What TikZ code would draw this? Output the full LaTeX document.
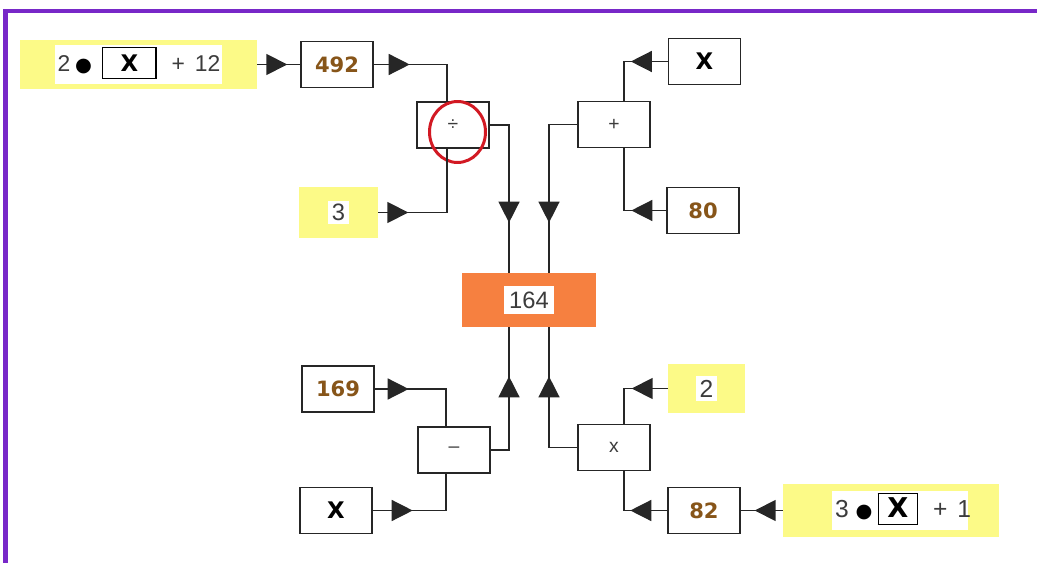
\documentclass[tikz,border=0pt]{standalone}
\usepackage{fontspec}
\setmainfont{Liberation Sans}
\newfontfamily\dejavu{DejaVu Sans}
\usetikzlibrary{arrows.meta, decorations.markings, shapes.geometric, positioning}

\definecolor{framepurple}{RGB}{120,40,200}
\definecolor{hiyellow}{RGB}{252,250,135}
\definecolor{resorange}{RGB}{246,128,64}
\definecolor{numbrown}{RGB}{135,85,25}
\definecolor{txtgray}{RGB}{60,60,60}
\definecolor{ringred}{RGB}{210,25,35}

\newcommand{\unknownbox}[2]{{\setlength{\fboxsep}{0pt}\setlength{\fboxrule}{0.7pt}%
  \fcolorbox{black}{white}{\makebox[#1]{\rule[-0.13cm]{0pt}{0.59cm}\fontsize{#2}{#2}\selectfont\dejavu\bfseries\color{black}X}}}}
\newcommand{\patch}[2][2pt]{{\setlength{\fboxsep}{#1}\colorbox{white}{#2}}}
\newcommand{\dotsign}[1]{{\fontsize{#1}{#1}\selectfont\dejavu\color{black}●}}

\begin{document}
\begin{tikzpicture}[
  x=0.02cm, y=-0.02cm,
  tri/.tip={Triangle[length=0.42cm, width=0.42cm]},
  box/.style={rectangle, draw=black!85, line width=0.8pt, fill=white, minimum width=1.44cm, minimum height=0.92cm, inner sep=0pt},
  opbox/.style={box, font=\fontsize{11}{13}\selectfont, text=txtgray},
  numbox/.style={box, font=\fontsize{12}{14}\selectfont\dejavu\bfseries, text=numbrown},
  varbox/.style={box, font=\fontsize{13}{15}\selectfont\dejavu\bfseries, text=black},
  given/.style={rectangle, fill=hiyellow, inner sep=0pt, font=\fontsize{13.5}{15}\selectfont, text=txtgray},
  result/.style={rectangle, fill=resorange, minimum width=2.68cm, minimum height=1.08cm, inner sep=0pt, font=\fontsize{13.5}{15}\selectfont, text=txtgray},
  ring/.style={ellipse, draw=ringred, line width=1.7pt, minimum width=1.12cm, minimum height=1.22cm},
  link/.style={draw=black!85, line width=0.8pt},
  tipat/.style={link, postaction={decorate}, decoration={markings, mark=at position #1 with {\arrow{tri}}}}
]
\useasboundingbox (0,0) rectangle (1037,563);
\draw[framepurple, line width=2.3pt] (5.5,563) -- (5.5,11) -- (1037,11);

\node[given, minimum width=4.74cm, minimum height=0.98cm, font=\fontsize{13}{15}\selectfont] (y1) at (138.5,64.5)
  {\patch[0pt]{\makebox[3.36cm][l]{\rule[-0.25cm]{0pt}{0.78cm}\hspace{0.06cm}2\hspace{0.1cm}\dotsign{11}\hspace{0.2cm}\unknownbox{1.04cm}{13pt}\hspace{0.3cm}+\hspace{0.2cm}12}}};
\node[numbox, right=0.86cm of y1] (n492) {492};
\node[opbox] (div) at (453,125) {÷};
\node[given, minimum width=1.58cm, minimum height=1.02cm] (y3) at (338.5,212.5) {\patch{3}};
\node[ring] (divring) at (457.5,132) {};

\node[varbox] (xa) at (704.5,61.5) {X};
\node[opbox] (plus) at (614,124.5) {+};
\node[numbox] (n80) at (703,210.5) {80};

\node[result] (res) at (529,300) {\patch[3pt]{164}};

\node[numbox] (n169) at (338,389) {169};
\node[opbox] (minus) at (454,450) {–};
\node[varbox] (xb) at (336,510.5) {X};

\node[given, minimum width=1.54cm, minimum height=0.98cm, font=\fontsize{14}{16}\selectfont] (y2) at (706.5,388.5) {\patch{2}};
\node[opbox] (times) at (614,447.5) {x};
\node[given, minimum width=4.32cm, minimum height=1.06cm, font=\fontsize{14}{16}\selectfont] (y4) at (891,510.5)
  {\hspace{0.36cm}\patch[0pt]{\makebox[2.72cm][l]{\rule[-0.27cm]{0pt}{0.8cm}\hspace{0.06cm}3\hspace{0.14cm}\dotsign{11}\hspace{0.1cm}\unknownbox{0.76cm}{15.5pt}\hspace{0.3cm}+\hspace{0.2cm}1}}};
\node[numbox, left=0.84cm of y4] (n82) {82};

\draw[tipat=-0.26cm] (y1.east |- n492.west) -- (n492.west);
\draw[tipat=0.72cm] (n492.east) -| ([xshift=-0.12cm]div.north);
\draw[tipat=0.6cm] (y3.east) -| ([xshift=-0.12cm]div.south);
\draw[tipat=-1cm] (div.east) -| ([xshift=-0.4cm]res.north);

\draw[tipat=0.74cm] (xa.west) -| ([xshift=0.2cm]plus.north);
\draw[tipat=0.7cm] (n80.west) -| ([xshift=0.2cm]plus.south);
\draw[tipat=-1cm] (plus.west) -| ([xshift=0.4cm]res.north);

\draw[tipat=0.68cm] (n169.east) -| ([xshift=-0.16cm]minus.north);
\draw[tipat=0.8cm] (xb.east) -| ([xshift=-0.16cm]minus.south);
\draw[tipat=-0.98cm] (minus.east) -| ([xshift=-0.4cm]res.south);

\draw[tipat=0.72cm] (y2.west) -| ([xshift=0.2cm]times.north);
\draw[tipat=0.74cm] (n82.west) -| ([xshift=0.2cm]times.south);
\draw[tipat=-0.28cm] (y4.west |- n82.east) -- (n82.east);
\draw[tipat=-0.98cm] (times.west) -| ([xshift=0.4cm]res.south);
\end{tikzpicture}
\end{document}
